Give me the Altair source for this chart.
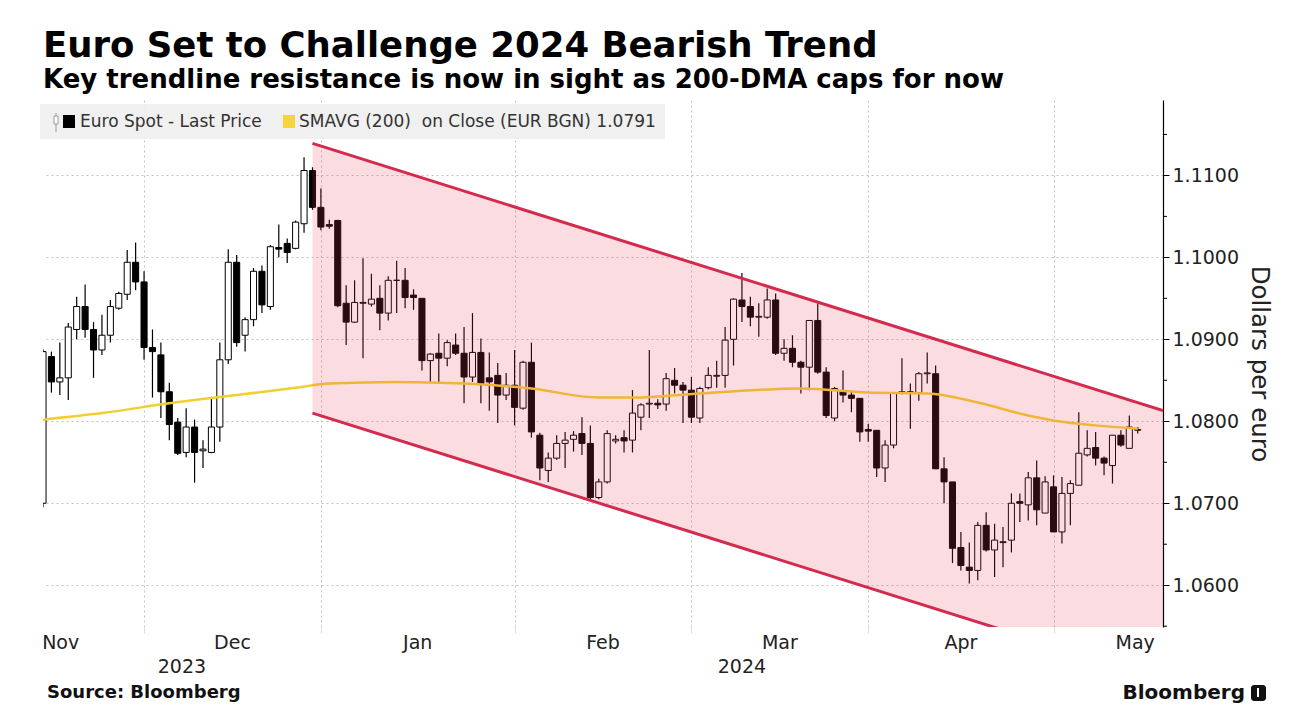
import altair as alt
import pandas as pd

# Daily EUR/USD candles, one per weekday starting 14 Nov 2023
opens = [1.0700, 1.0879, 1.0848, 1.0853, 1.0912, 1.0940, 1.0912, 1.0887, 1.0905, 1.0938,
         1.0955, 1.0994, 1.0970, 1.0890, 1.0881, 1.0836, 1.0799, 1.0762, 1.0793, 1.0764,
         1.0762, 1.0793, 1.0875, 1.0994, 1.0905, 1.0924, 1.0983, 1.0940, 1.1012, 1.1017,
         1.1011, 1.1041, 1.1106, 1.1061, 1.1040, 1.1045, 1.0944, 1.0921, 1.0944, 1.0943,
         1.0950, 1.0932, 1.0972, 1.0972, 1.0954, 1.0950, 1.0874, 1.0883, 1.0877, 1.0893,
         1.0883, 1.0854, 1.0884, 1.0853, 1.0856, 1.0832, 1.0844, 1.0816, 1.0872, 1.0783,
         1.0740, 1.0755, 1.0773, 1.0778, 1.0785, 1.0773, 1.0707, 1.0726, 1.0776, 1.0780,
         1.0777, 1.0805, 1.0821, 1.0822, 1.0821, 1.0850, 1.0844, 1.0838, 1.0804, 1.0841,
         1.0855, 1.0856, 1.0900, 1.0948, 1.0940, 1.0927, 1.0927, 1.0948, 1.0883, 1.0889,
         1.0872, 1.0866, 1.0923, 1.0860, 1.0804, 1.0837, 1.0832, 1.0828, 1.0790, 1.0789,
         1.0743, 1.0771, 1.0836, 1.0836, 1.0835, 1.0858, 1.0858, 1.0742, 1.0726, 1.0646,
         1.0622, 1.0618, 1.0673, 1.0643, 1.0652, 1.0655, 1.0702, 1.0698, 1.0731, 1.0688,
         1.0720, 1.0665, 1.0712, 1.0722, 1.0759, 1.0768, 1.0755, 1.0746, 1.0783, 1.0767,
         1.0789]
highs = [1.0888, 1.0885, 1.0896, 1.0920, 1.0952, 1.0967, 1.0921, 1.0930, 1.0948, 1.0958,
         1.1009, 1.1018, 1.0983, 1.0912, 1.0896, 1.0847, 1.0804, 1.0816, 1.0802, 1.0777,
         1.0828, 1.0896, 1.1010, 1.1003, 1.0927, 1.0987, 1.0990, 1.1015, 1.1040, 1.1023,
         1.1045, 1.1122, 1.1110, 1.1084, 1.1046, 1.1046, 1.0966, 1.0972, 1.0999, 1.0980,
         1.0966, 1.0977, 1.0996, 1.0987, 1.0961, 1.0950, 1.0883, 1.0907, 1.0899, 1.0907,
         1.0915, 1.0932, 1.0901, 1.0884, 1.0871, 1.0859, 1.0887, 1.0874, 1.0896, 1.0786,
         1.0762, 1.0783, 1.0787, 1.0788, 1.0805, 1.0795, 1.0730, 1.0789, 1.0783, 1.0789,
         1.0838, 1.0822, 1.0887, 1.0827, 1.0859, 1.0865, 1.0848, 1.0854, 1.0842, 1.0866,
         1.0874, 1.0915, 1.0950, 1.0981, 1.0952, 1.0944, 1.0962, 1.0956, 1.0900, 1.0905,
         1.0874, 1.0923, 1.0944, 1.0866, 1.0842, 1.0862, 1.0837, 1.0828, 1.0797, 1.0789,
         1.0777, 1.0835, 1.0877, 1.0846, 1.0860, 1.0884, 1.0868, 1.0756, 1.0726, 1.0665,
         1.0652, 1.0677, 1.0689, 1.0675, 1.0671, 1.0712, 1.0712, 1.0738, 1.0752, 1.0733,
         1.0734, 1.0732, 1.0728, 1.0811, 1.0789, 1.0787, 1.0757, 1.0783, 1.0789, 1.0807,
         1.0793]
lows = [1.0695, 1.0835, 1.0832, 1.0826, 1.0900, 1.0902, 1.0853, 1.0881, 1.0896, 1.0936,
        1.0948, 1.0960, 1.0875, 1.0829, 1.0804, 1.0777, 1.0759, 1.0756, 1.0725, 1.0743,
        1.0761, 1.0775, 1.0870, 1.0891, 1.0885, 1.0916, 1.0932, 1.0936, 1.1000, 1.0993,
        1.1010, 1.1030, 1.1058, 1.1033, 1.1035, 1.0939, 1.0893, 1.0920, 1.0877, 1.0940,
        1.0911, 1.0923, 1.0932, 1.0938, 1.0936, 1.0862, 1.0848, 1.0848, 1.0867, 1.0881,
        1.0822, 1.0848, 1.0822, 1.0813, 1.0798, 1.0826, 1.0795, 1.0814, 1.0780, 1.0728,
        1.0726, 1.0753, 1.0743, 1.0763, 1.0759, 1.0705, 1.0705, 1.0724, 1.0773, 1.0762,
        1.0762, 1.0789, 1.0804, 1.0815, 1.0813, 1.0834, 1.0798, 1.0798, 1.0798, 1.0839,
        1.0841, 1.0841, 1.0868, 1.0921, 1.0916, 1.0903, 1.0925, 1.0881, 1.0874, 1.0866,
        1.0834, 1.0838, 1.0858, 1.0804, 1.0800, 1.0823, 1.0811, 1.0775, 1.0775, 1.0732,
        1.0726, 1.0767, 1.0833, 1.0791, 1.0825, 1.0846, 1.0742, 1.0700, 1.0627, 1.0618,
        1.0602, 1.0606, 1.0641, 1.0610, 1.0622, 1.0640, 1.0677, 1.0679, 1.0673, 1.0688,
        1.0665, 1.0651, 1.0673, 1.0722, 1.0757, 1.0746, 1.0734, 1.0724, 1.0769, 1.0767,
        1.0785]
closes = [1.0885, 1.0848, 1.0853, 1.0915, 1.0940, 1.0912, 1.0887, 1.0905, 1.0940, 1.0956,
          1.0994, 1.0970, 1.0890, 1.0885, 1.0836, 1.0796, 1.0761, 1.0793, 1.0762, 1.0766,
          1.0793, 1.0875, 1.0994, 1.0896, 1.0924, 1.0983, 1.0942, 1.1013, 1.1010, 1.1006,
          1.1043, 1.1106, 1.1061, 1.1037, 1.1038, 1.0941, 1.0921, 1.0945, 1.0945, 1.0949,
          1.0932, 1.0972, 1.0972, 1.0951, 1.0951, 1.0874, 1.0882, 1.0877, 1.0896, 1.0883,
          1.0854, 1.0884, 1.0846, 1.0848, 1.0832, 1.0844, 1.0817, 1.0872, 1.0787, 1.0743,
          1.0755, 1.0773, 1.0777, 1.0783, 1.0773, 1.0707, 1.0726, 1.0785, 1.0778, 1.0776,
          1.0810, 1.0820, 1.0822, 1.0820, 1.0852, 1.0844, 1.0838, 1.0805, 1.0840, 1.0856,
          1.0856, 1.0899, 1.0949, 1.0940, 1.0927, 1.0928, 1.0948, 1.0883, 1.0889, 1.0872,
          1.0866, 1.0923, 1.0860, 1.0807, 1.0840, 1.0832, 1.0828, 1.0787, 1.0788, 1.0743,
          1.0771, 1.0835, 1.0835, 1.0835, 1.0858, 1.0859, 1.0742, 1.0726, 1.0645, 1.0624,
          1.0618, 1.0673, 1.0643, 1.0655, 1.0653, 1.0700, 1.0700, 1.0731, 1.0692, 1.0726,
          1.0665, 1.0712, 1.0724, 1.0761, 1.0767, 1.0755, 1.0749, 1.0783, 1.0771, 1.0793,
          1.0790]

# 200-day simple moving average on close, by trading-day position
sma_day = [0, 7, 15, 23, 30, 34, 42, 50, 58, 66, 70, 78, 90, 98, 105, 111, 117, 120, 125, 130]
sma_val = [1.0802, 1.0810, 1.0822, 1.0832, 1.0841, 1.0846, 1.0848, 1.0846, 1.0840, 1.0829,
           1.0829, 1.0834, 1.0840, 1.0835, 1.0834, 1.0823, 1.0807, 1.0801, 1.0795, 1.0791]

# Bearish channel anchored on the late-December high
channel_day = [32, 133]
channel_upper = [1.1139, 1.0813]
channel_lower = [1.0810, 1.0484]

y_ticks = [1.06, 1.07, 1.08, 1.09, 1.10, 1.11]
y_minor = [1.055, 1.065, 1.075, 1.085, 1.095, 1.105, 1.115]

month_names = ["Nov", "Dec", "Jan", "Feb", "Mar", "Apr", "May"]
month_label_day = [2.1, 22.5, 44.5, 66.5, 87.5, 109.0, 129.7]
year_names = ["2023", "2024"]
year_label_day = [16.5, 83.0]

FONT = "DejaVu Sans"
W, H = 1120, 527

dates = pd.bdate_range("2023-11-14", periods=len(closes))
candles = pd.DataFrame({
    "day": range(len(closes)),
    "date": dates.strftime("%Y-%m-%d"),
    "open": opens, "high": highs, "low": lows, "close": closes,
})
# last weekday of each month carries the vertical grid line
month_end = [i for i in range(len(dates) - 1) if dates[i].month != dates[i + 1].month]

sma = pd.DataFrame({"day": sma_day, "sma": sma_val})
band = pd.DataFrame({"day": channel_day, "upper": channel_upper, "lower": channel_lower})
edges = pd.concat([
    pd.DataFrame({"day": channel_day, "value": channel_upper, "edge": "upper"}),
    pd.DataFrame({"day": channel_day, "value": channel_lower, "edge": "lower"}),
])
minor = pd.DataFrame({"v": y_minor})
months = pd.DataFrame({"day": month_label_day, "label": month_names})
years = pd.DataFrame({"day": year_label_day, "label": year_names})
one = pd.DataFrame({"k": [0]})

xs = alt.Scale(domain=[0, 133], nice=False, zero=False)
ys = alt.Scale(domain=[1.0549, 1.1192], nice=False, zero=False)

x_axis = alt.Axis(values=month_end, grid=True, gridDash=[2, 3], gridColor="#c2c2c2",
                  labels=False, ticks=True, tickColor="#dddddd", tickSize=6, domain=False,
                  title=None)
y_axis = alt.Axis(orient="right", values=y_ticks, format=".4f", grid=True,
                  gridDash=[2, 3], gridColor="#c2c2c2", domainColor="black",
                  domainWidth=1.2, tickColor="black", tickSize=6, labelPadding=3,
                  labelFontSize=19, labelColor="#222222", labelFont=FONT,
                  title="Dollars per euro", titleFontSize=24.5, titleFontWeight="normal",
                  titleColor="#222222", titleFont=FONT, titleAngle=90, titlePadding=8)


def X(field):
    return alt.X(field, scale=xs, axis=x_axis)


def Y(field):
    return alt.Y(field, scale=ys, axis=y_axis)


wicks = alt.Chart(candles).mark_rule(color="black", strokeWidth=1.2, clip=True).encode(
    x=X("day:Q"), y=Y("low:Q"), y2="high:Q",
)

bodies = alt.Chart(candles).transform_calculate(
    left="datum.day - 0.36", right="datum.day + 0.36",
    top="max(datum.open, datum.close)", bottom="min(datum.open, datum.close)",
).mark_rect(stroke="black", strokeWidth=1, clip=True).encode(
    x=X("left:Q"), x2="right:Q", y=Y("bottom:Q"), y2="top:Q",
    fill=alt.condition("datum.close >= datum.open", alt.value("white"), alt.value("black")),
    tooltip=["date:N", "open:Q", "high:Q", "low:Q", "close:Q"],
)

sma_line = alt.Chart(sma).mark_line(color="#f2cf30", strokeWidth=2.5, interpolate="monotone",
                                    clip=True).encode(x=X("day:Q"), y=Y("sma:Q"))

band_area = alt.Chart(band).mark_area(color="#e8405a", opacity=0.18, clip=True).encode(
    x=X("day:Q"), y=Y("upper:Q"), y2="lower:Q")

band_edges = alt.Chart(edges).mark_line(color="#d42a4e", strokeWidth=3, clip=True).encode(
    x=X("day:Q"), y=Y("value:Q"), detail="edge:N")

minor_ticks = alt.Chart(minor).mark_rule(color="black", strokeWidth=1).encode(
    x=alt.value(W), x2=alt.value(W + 4), y=Y("v:Q"))

month_text = alt.Chart(months).mark_text(font=FONT, fontSize=19, color="#222222",
                                         baseline="middle").encode(
    x=X("day:Q"), y=alt.value(H + 16), text="label:N")
year_text = alt.Chart(years).mark_text(font=FONT, fontSize=19, color="#222222",
                                       baseline="middle").encode(
    x=X("day:Q"), y=alt.value(H + 40), text="label:N")

# legend strip
legend_box = alt.Chart(one).mark_rect(color="#efefef", opacity=0.92).encode(
    x=alt.value(-3), x2=alt.value(622), y=alt.value(4), y2=alt.value(39))
legend_wick = alt.Chart(one).mark_rule(color="#9a9a9a", strokeWidth=1).encode(
    x=alt.value(13), y=alt.value(13), y2=alt.value(32))
legend_candle = alt.Chart(one).mark_rect(fill="white", stroke="#9a9a9a", strokeWidth=1).encode(
    x=alt.value(11), x2=alt.value(15), y=alt.value(16), y2=alt.value(24))
legend_black = alt.Chart(one).mark_rect(color="black").encode(
    x=alt.value(20), x2=alt.value(32), y=alt.value(15), y2=alt.value(28))
legend_yellow = alt.Chart(one).mark_rect(color="#f5d53a").encode(
    x=alt.value(240), x2=alt.value(252), y=alt.value(15), y2=alt.value(28))
legend_t1 = alt.Chart(one).mark_text(text="Euro Spot - Last Price", font=FONT, fontSize=17,
                                     color="#333333", align="left", baseline="middle").encode(
    x=alt.value(37), y=alt.value(22))
legend_t2 = alt.Chart(one).mark_text(text="SMAVG (200)\u00a0 on Close (EUR BGN) 1.0791",
                                     font=FONT, fontSize=17, color="#333333", align="left",
                                     baseline="middle").encode(
    x=alt.value(256), y=alt.value(22))

# footer
source = alt.Chart(one).mark_text(text="Source: Bloomberg", font=FONT, fontSize=18,
                                  fontWeight="bold", color="#111111", align="left",
                                  baseline="middle").encode(x=alt.value(4), y=alt.value(H + 66))
brand = alt.Chart(one).mark_text(text="Bloomberg", font=FONT, fontSize=20, fontWeight="bold",
                                 color="#111111", align="right", baseline="middle").encode(
    x=alt.value(W + 82), y=alt.value(H + 66))
brand_icon = alt.Chart(one).mark_rect(color="#111111", cornerRadius=3).encode(
    x=alt.value(W + 88), x2=alt.value(W + 103), y=alt.value(H + 58), y2=alt.value(H + 74))
brand_bar = alt.Chart(one).mark_rule(color="white", strokeWidth=2).encode(
    x=alt.value(W + 95), y=alt.value(H + 61), y2=alt.value(H + 70))

chart = alt.layer(
    wicks, bodies, sma_line, band_area, band_edges, minor_ticks,
    legend_box, legend_wick, legend_candle, legend_black, legend_yellow, legend_t1, legend_t2,
    month_text, year_text, source, brand, brand_icon, brand_bar,
).properties(
    width=W, height=H,
    padding={"left": 43, "top": 100, "right": 127, "bottom": 99},
    autosize=alt.AutoSizeParams(type="none"),
    background="white",
    title=alt.TitleParams(
        text="Euro Set to Challenge 2024 Bearish Trend",
        subtitle="Key trendline resistance is now in sight as 200-DMA caps for now",
        anchor="start", frame="group", font=FONT, fontSize=35.5, fontWeight="bold",
        color="#000000", subtitleFont=FONT, subtitleFontSize=26, subtitleFontWeight="bold",
        subtitleColor="#000000", subtitlePadding=3, offset=7,
    ),
).configure(font=FONT).configure_view(stroke=None)

chart.save("out.html", embed_options={"renderer": "svg", "actions": False})
